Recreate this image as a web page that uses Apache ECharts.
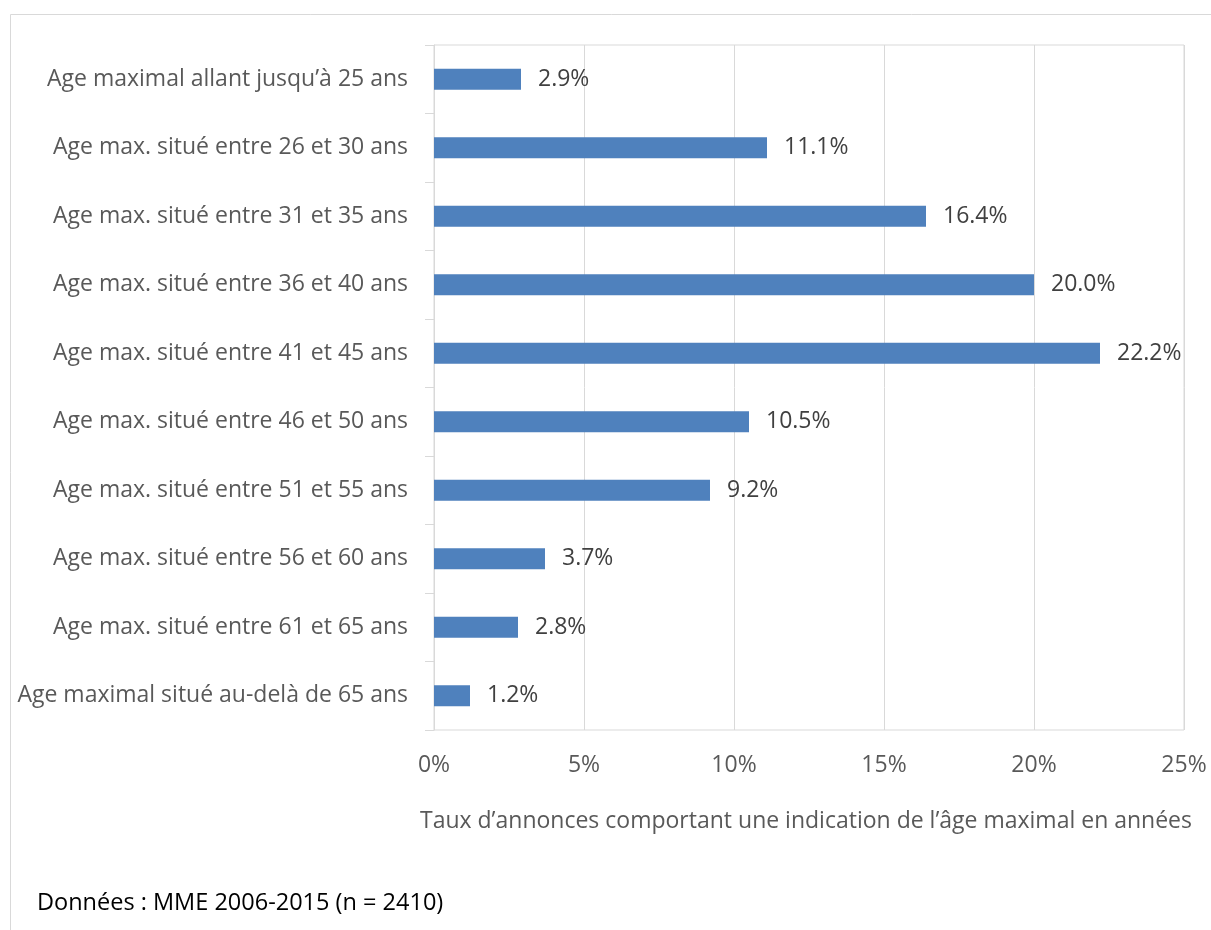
<!DOCTYPE html>
<html>
<head>
<meta charset="utf-8">
<script src="https://cdn.jsdelivr.net/npm/echarts@6/dist/echarts.min.js"></script>
<style>
html,body{margin:0;padding:0;background:#fff;}
#chart{width:1211px;height:930px;}
</style>
</head>
<body>
<div id="chart"></div>
<script>
const categories = [
  "Age maximal allant jusqu’à 25 ans",
  "Age max. situé entre 26 et 30 ans",
  "Age max. situé entre 31 et 35 ans",
  "Age max. situé entre 36 et 40 ans",
  "Age max. situé entre 41 et 45 ans",
  "Age max. situé entre 46 et 50 ans",
  "Age max. situé entre 51 et 55 ans",
  "Age max. situé entre 56 et 60 ans",
  "Age max. situé entre 61 et 65 ans",
  "Age maximal situé au-delà de 65 ans"
];
const values = [2.9, 11.1, 16.4, 20.0, 22.2, 10.5, 9.2, 3.7, 2.8, 1.2];
const axisTitle = "Taux d’annonces comportant une indication de l’âge maximal en années";
const sourceNote = "Données : MME 2006-2015 (n = 2410)";

const FONT = "Open Sans";
const FS = 23;
const chart = echarts.init(document.getElementById('chart'), null, {renderer: 'canvas'});
chart.setOption({
  animation: false,
  textStyle: {fontFamily: FONT},
  graphic: [
    {type: 'rect', shape: {x: 10.5, y: 14.5, width: 1300, height: 1000},
     style: {fill: 'none', stroke: '#d9d9d9', lineWidth: 1}, silent: true},
    {type: 'text', left: 37, top: 891,
     style: {text: sourceNote, fill: '#000', font: '23.5px ' + FONT}}
  ],
  grid: {left: 434, right: 27, top: 45, bottom: 200, show: true, borderColor: '#d9d9d9', borderWidth: 1},
  xAxis: {
    type: 'value', min: 0, max: 25, interval: 5,
    axisLine: {show: false}, axisTick: {show: false},
    splitLine: {lineStyle: {color: '#d9d9d9', width: 1}},
    axisLabel: {formatter: '{value}%', color: '#595959', fontSize: FS, margin: 24, fontFamily: FONT},
    name: axisTitle, nameLocation: 'end', nameGap: 0,
    nameTextStyle: {color: '#595959', fontSize: FS, fontFamily: FONT, align: 'right', verticalAlign: 'top', padding: [80, -8, 0, 0]}
  },
  yAxis: {
    type: 'category', data: categories, inverse: true,
    axisLine: {show: true, lineStyle: {color: '#d9d9d9', width: 1}},
    axisTick: {show: true, length: 9, lineStyle: {color: '#d9d9d9'}},
    axisLabel: {color: '#595959', fontSize: FS, margin: 26, fontFamily: FONT}
  },
  series: [{
    type: 'bar', data: values, barWidth: 21,
    itemStyle: {color: '#4f81bd'},
    label: {show: true, position: 'right', distance: 17, formatter: p => p.value.toFixed(1) + '%',
            color: '#404040', fontSize: FS, fontFamily: FONT}
  }]
});
</script>
</body>
</html>
